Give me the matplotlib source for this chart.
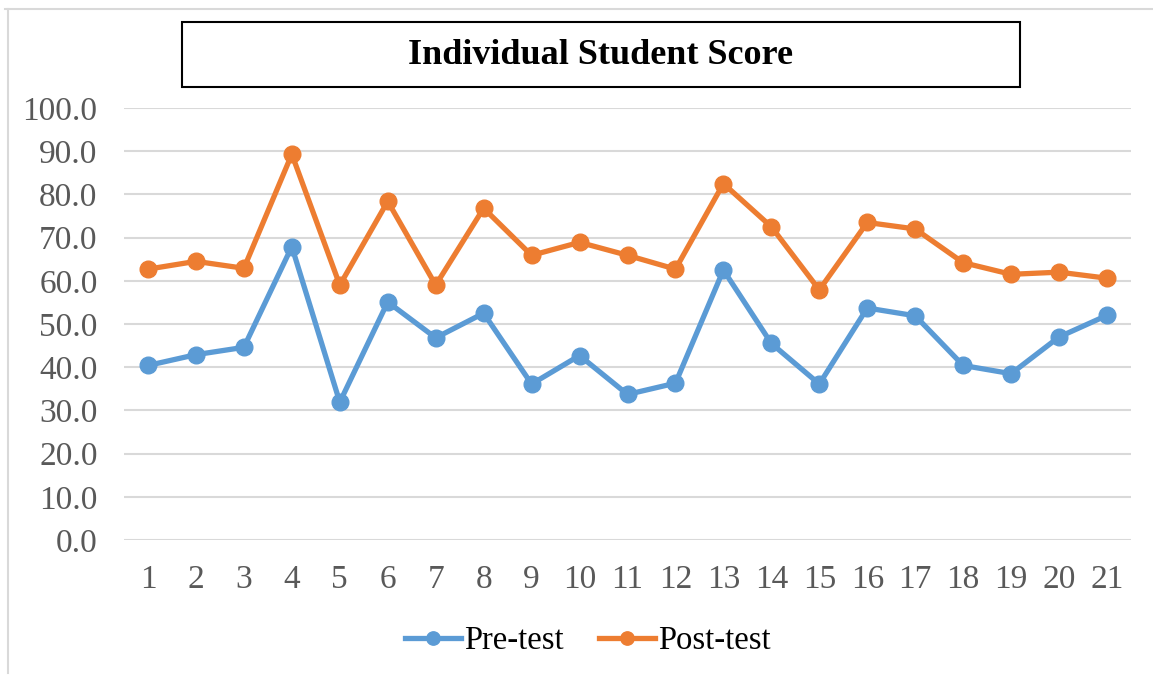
import matplotlib.pyplot as plt
from matplotlib.lines import Line2D

plt.rcParams["font.family"] = ["Liberation Serif", "DejaVu Serif"]

students = list(range(1, 22))
pre_test = [40.4, 42.9, 44.6, 67.9, 31.9, 55.1, 46.8, 52.5, 36.1, 42.7, 33.7,
            36.3, 62.5, 45.5, 36.1, 53.7, 51.9, 40.4, 38.5, 47.0, 52.0]
post_test = [62.7, 64.5, 62.9, 89.3, 59.0, 78.4, 59.0, 76.8, 65.9, 68.9, 65.9,
             62.7, 82.5, 72.5, 57.9, 73.5, 72.0, 64.2, 61.5, 62.0, 60.6]
yticks = [0, 10, 20, 30, 40, 50, 60, 70, 80, 90, 100]

blue = "#5B9BD5"
orange = "#ED7D31"
grey_txt = "#595959"

W, H = 1153, 675
fig = plt.figure(figsize=(W / 100, H / 100), dpi=100)
ax = fig.add_axes([124 / W, 1 - 540 / H, (1131 - 124) / W, (540 - 108) / H])

ax.plot(students, pre_test, "-o", color=blue, lw=3.8, ms=12, label="Pre-test")
ax.plot(students, post_test, "-o", color=orange, lw=3.8, ms=12, label="Post-test")

ax.set_xlim(0.5, 21.5)
ax.set_ylim(0, 100)
ax.set_xticks(students)
ax.set_xticklabels([str(s) for s in students])
ax.set_yticks(yticks)
ax.set_yticklabels(["%.1f" % v for v in yticks])
ax.yaxis.grid(True, color="#D9D9D9", lw=1.5)
ax.set_axisbelow(True)
for s in ax.spines.values():
    s.set_visible(False)
ax.tick_params(axis="both", length=0, labelsize=24, labelcolor=grey_txt)
ax.tick_params(axis="x", pad=18)
ax.tick_params(axis="y", pad=19)

# title box
fig.text(601 / W, 1 - 56 / H, "Individual Student Score", ha="center", va="center",
         fontsize=26, fontweight="bold")
fig.patches.append(plt.Rectangle((182 / W, 1 - 87 / H), (1020 - 182) / W, (87 - 22) / H,
                                 transform=fig.transFigure, fill=False, ec="black", lw=1.5))

# outer chart border (top and left only visible)
fig.add_artist(Line2D([5 / W, 1], [1 - 8.5 / H] * 2, transform=fig.transFigure,
                      color="#D9D9D9", lw=1.5))
fig.add_artist(Line2D([7.5 / W] * 2, [1 - 8.5 / H, 1 - 673 / H], transform=fig.transFigure,
                      color="#D9D9D9", lw=1.5))

fig.legend(loc="center", bbox_to_anchor=(588 / W, 1 - 641 / H), ncol=2, frameon=False,
           fontsize=23.5, handlelength=1.7, handletextpad=0.1, columnspacing=1.1,
           markerscale=0.8)

fig.savefig("out.png", dpi=100)
